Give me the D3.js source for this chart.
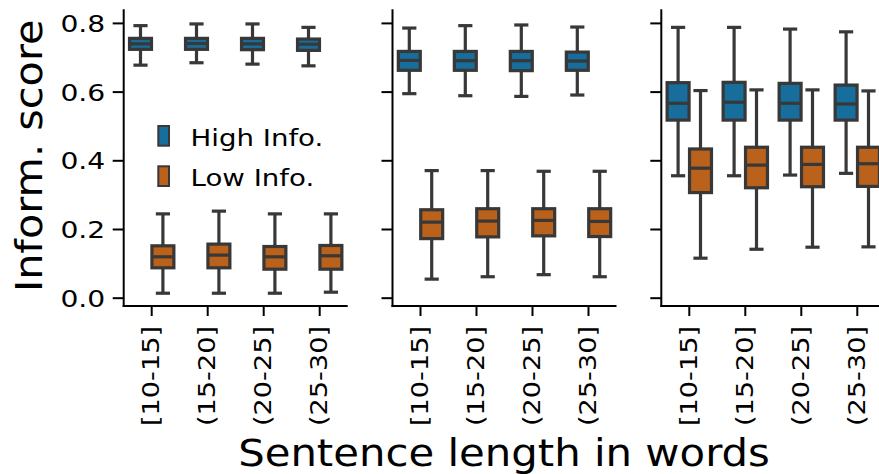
<!DOCTYPE html>
<html>
<head>
<meta charset="utf-8">
<script src="https://cdn.jsdelivr.net/npm/d3@7"></script>
<style>
  html, body { margin: 0; padding: 0; background: #fff; }
  svg { display: block; }
  text { font-family: "DejaVu Sans", sans-serif; fill: #000; }
</style>
</head>
<body>
<svg id="chart" width="879" height="474"></svg>
<script>
// ---------------- data ----------------
const categories = ["[10-15]", "(15-20]", "(20-25]", "(25-30]"];
const hues = ["High Info.", "Low Info."];
const yTickValues = [0.0, 0.2, 0.4, 0.6, 0.8];
const xLabel = "Sentence length in words";
const yLabel = "Inform. score";

// one row per panel (left, middle, right), one value per category
const highWhiskerTop = [
  [0.792, 0.797, 0.797, 0.787],
  [0.785, 0.792, 0.794, 0.788],
  [0.787, 0.787, 0.782, 0.774]
];
const highQ3 = [
  [0.755, 0.755, 0.755, 0.753],
  [0.717, 0.717, 0.717, 0.715],
  [0.626, 0.627, 0.624, 0.619]
];
const highMedian = [
  [0.739, 0.740, 0.739, 0.738],
  [0.691, 0.690, 0.690, 0.689],
  [0.566, 0.569, 0.566, 0.564]
];
const highQ1 = [
  [0.723, 0.723, 0.722, 0.720],
  [0.662, 0.662, 0.661, 0.662],
  [0.517, 0.517, 0.517, 0.517]
];
const highWhiskerBottom = [
  [0.677, 0.684, 0.680, 0.675],
  [0.594, 0.588, 0.586, 0.590],
  [0.355, 0.355, 0.357, 0.362]
];

const lowWhiskerTop = [
  [0.244, 0.252, 0.244, 0.244],
  [0.370, 0.370, 0.368, 0.368],
  [0.603, 0.605, 0.605, 0.602]
];
const lowQ3 = [
  [0.151, 0.156, 0.149, 0.152],
  [0.256, 0.259, 0.259, 0.259],
  [0.433, 0.438, 0.438, 0.438]
];
const lowMedian = [
  [0.119, 0.124, 0.119, 0.122],
  [0.220, 0.223, 0.225, 0.222],
  [0.377, 0.386, 0.388, 0.390]
];
const lowQ1 = [
  [0.087, 0.087, 0.083, 0.083],
  [0.172, 0.177, 0.180, 0.178],
  [0.306, 0.320, 0.323, 0.324]
];
const lowWhiskerBottom = [
  [0.013, 0.013, 0.013, 0.016],
  [0.054, 0.061, 0.067, 0.061],
  [0.115, 0.141, 0.147, 0.148]
];

const hueColors = ["#176d9c", "#ba611b"];
const lineGray = "#383838";

// ---------------- layout ----------------
const svg = d3.select("#chart");
const panelLefts = [123.7, 392.5, 661.3];
const panelWidth = 224;
const plotTop = 9.3, plotBottom = 306;

const y = d3.scaleLinear().domain([-0.0242, 0.8396]).range([plotBottom, plotTop]);

const stats = [
  { top: highWhiskerTop, q3: highQ3, med: highMedian, q1: highQ1, bot: highWhiskerBottom },
  { top: lowWhiskerTop, q3: lowQ3, med: lowMedian, q1: lowQ1, bot: lowWhiskerBottom }
];

panelLefts.forEach((left, p) => {
  const x = d3.scaleBand().domain(categories).range([left, left + panelWidth]).padding(0);
  const bw = x.bandwidth();
  const hueScale = d3.scaleBand().domain(hues).range([-0.4 * bw, 0.4 * bw]);
  const boxW = hueScale.bandwidth() * 0.98;

  const g = svg.append("g");

  // y axis
  const yAxis = d3.axisLeft(y).tickValues(yTickValues).tickSize(11)
    .tickFormat(p === 0 ? d3.format(".1f") : () => "");
  const ya = g.append("g").attr("transform", `translate(${left},0)`).call(yAxis);
  ya.select(".domain").remove();
  ya.selectAll(".tick line").attr("stroke", "#000").attr("stroke-width", 2);
  ya.selectAll(".tick text")
    .attr("x", null).attr("dy", null)
    .attr("dominant-baseline", null)
    .attr("text-anchor", "end")
    .style("font-size", "23.5px")
    .attr("transform", "translate(-18.5,8.6) scale(1.2,1)");

  // x axis
  const xAxis = d3.axisBottom(x).tickSize(10);
  const xa = g.append("g").attr("transform", `translate(0,${plotBottom})`).call(xAxis);
  xa.select(".domain").remove();
  xa.selectAll(".tick line").attr("stroke", "#000").attr("stroke-width", 2);
  xa.selectAll(".tick text")
    .attr("y", null).attr("dy", null)
    .attr("text-anchor", "end")
    .style("font-size", "23.5px")
    .attr("transform", "translate(0,20) rotate(-90) scale(1.155,1) translate(0,7.4)");

  // spines (left + bottom)
  g.append("line").attr("x1", left).attr("x2", left)
    .attr("y1", plotTop).attr("y2", plotBottom + 1)
    .attr("stroke", "#000").attr("stroke-width", 2);
  g.append("line").attr("x1", left - 1).attr("x2", left + panelWidth)
    .attr("y1", plotBottom).attr("y2", plotBottom)
    .attr("stroke", "#000").attr("stroke-width", 2);

  // boxes
  hues.forEach((h, hi) => {
    const s = stats[hi];
    categories.forEach((c, ci) => {
      const cx = x(c) + bw / 2 + hueScale(h) + hueScale.bandwidth() / 2;
      const bg = g.append("g");
      const lw = 3.2;
      // whiskers
      bg.append("line").attr("x1", cx).attr("x2", cx)
        .attr("y1", y(s.q3[p][ci])).attr("y2", y(s.top[p][ci]))
        .attr("stroke", lineGray).attr("stroke-width", lw);
      bg.append("line").attr("x1", cx).attr("x2", cx)
        .attr("y1", y(s.q1[p][ci])).attr("y2", y(s.bot[p][ci]))
        .attr("stroke", lineGray).attr("stroke-width", lw);
      // caps
      [s.top[p][ci], s.bot[p][ci]].forEach(v => {
        bg.append("line").attr("x1", cx - boxW / 4).attr("x2", cx + boxW / 4)
          .attr("y1", y(v)).attr("y2", y(v))
          .attr("stroke", lineGray).attr("stroke-width", lw)
          .attr("stroke-linecap", "square");
      });
      // box
      bg.append("rect")
        .attr("x", cx - boxW / 2).attr("width", boxW)
        .attr("y", y(s.q3[p][ci])).attr("height", y(s.q1[p][ci]) - y(s.q3[p][ci]))
        .attr("fill", hueColors[hi])
        .attr("stroke", lineGray).attr("stroke-width", lw);
      // median
      bg.append("line").attr("x1", cx - boxW / 2).attr("x2", cx + boxW / 2)
        .attr("y1", y(s.med[p][ci])).attr("y2", y(s.med[p][ci]))
        .attr("stroke", lineGray).attr("stroke-width", lw);
    });
  });
});

// legend
const legendY = [126, 166.3];
hues.forEach((h, i) => {
  svg.append("rect").attr("x", 158.3).attr("y", legendY[i])
    .attr("width", 10.7).attr("height", 19.7)
    .attr("fill", hueColors[i]).attr("stroke", lineGray).attr("stroke-width", 2);
  svg.append("text")
    .attr("transform", `translate(190.6,${legendY[i] + 19.7}) scale(1.2,1)`)
    .style("font-size", "23px")
    .text(h);
});

// axis labels
svg.append("text")
  .attr("transform", "translate(504,466) scale(1.13,1)")
  .attr("text-anchor", "middle")
  .style("font-size", "37px")
  .text(xLabel);

svg.append("text")
  .attr("transform", "translate(41.7,155.8) rotate(-90) scale(1.09,1)")
  .attr("text-anchor", "middle")
  .style("font-size", "38px")
  .text(yLabel);
</script>
</body>
</html>
